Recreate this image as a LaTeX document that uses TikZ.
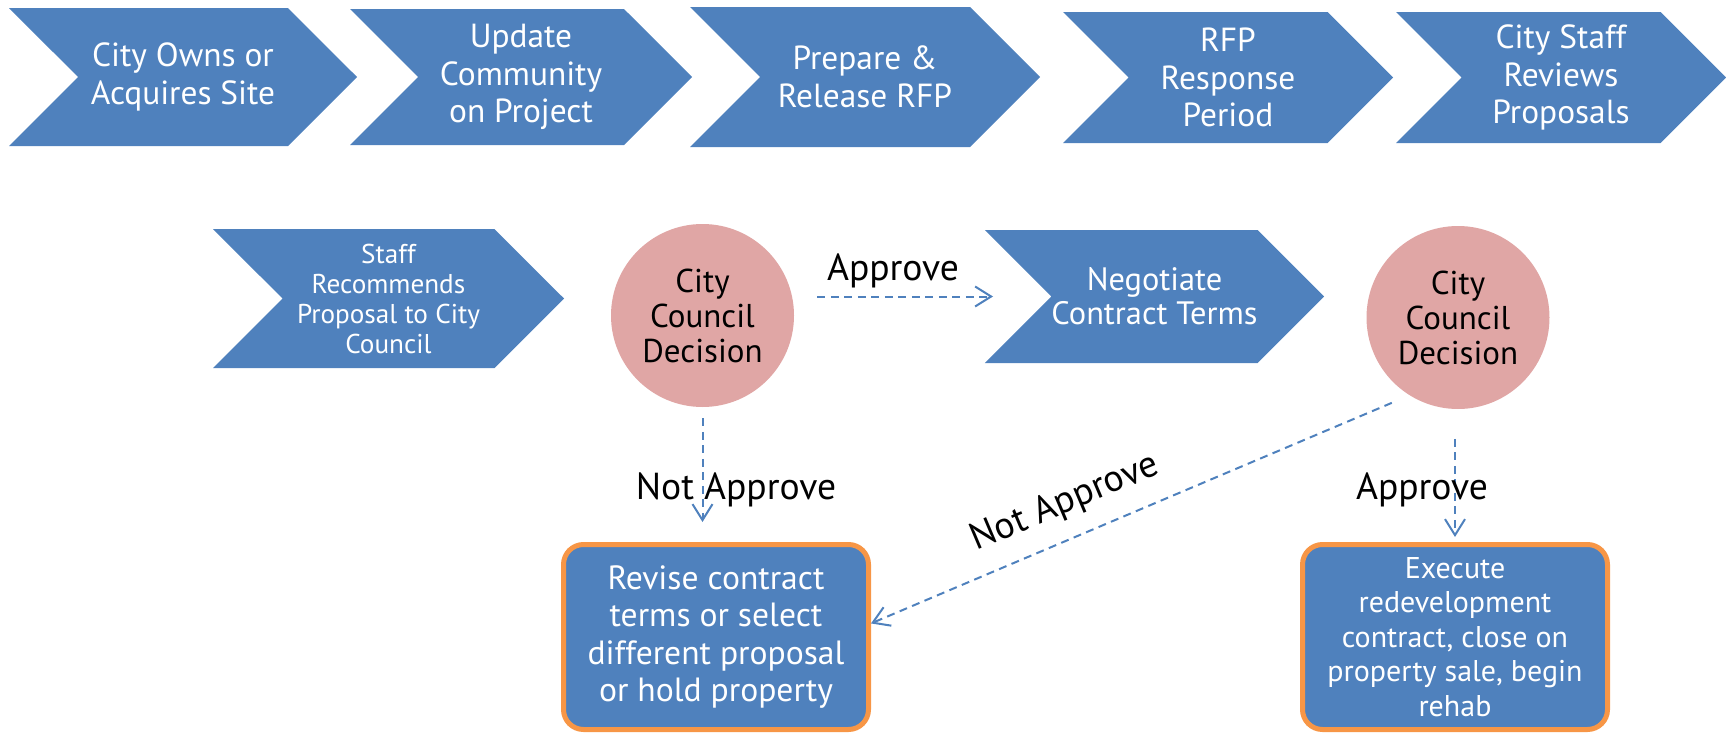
\documentclass[tikz,border=0pt]{standalone}
\usepackage{fontspec}
\setmainfont{PT Sans}
\usepackage{tikz}
\usetikzlibrary{arrows.meta}
\usetikzlibrary{shapes.symbols}

\definecolor{stepblue}{HTML}{4F81BD}
\definecolor{votepink}{HTML}{E0A6A5}
\definecolor{rimorange}{HTML}{F79646}

\begin{document}
\begin{tikzpicture}[x=0.5pt,y=-0.5pt]
\useasboundingbox (0,0) rectangle (1726,734);

\begin{scope}[every node/.style={signal,signal from=west,signal to=east,
              signal pointer angle=90,fill=stepblue,text=white,
              align=center,inner sep=0pt}]
	\begin{scope}[font=\fontsize{16.7}{18.75}\selectfont]
	\node[minimum width=174pt,minimum height=69pt] (1) at (183,77) {City Owns or\\Acquires Site};
	\node[minimum width=171pt,minimum height=68pt] (2) at (521,77) {Update\\Community\\on Project};
	\node[minimum width=175pt,minimum height=70pt] (3) at (865,77) {Prepare \&\\Release RFP};
	\node[minimum width=165pt,minimum height=65.5pt] (4) at (1228,77.5) {RFP\\Response\\Period};
	\node[minimum width=165pt,minimum height=65.5pt] (5) at (1561,77.5) {City Staff\\Reviews\\Proposals};
	\end{scope}

	\node[minimum width=175.5pt,minimum height=69.5pt,
	      font=\fontsize{13.6}{15}\selectfont] (6) at (388.5,298.5) {Staff\\Recommends\\Proposal to City\\Council};
	\node[minimum width=167.5pt,minimum height=66.5pt,
	      font=\fontsize{16.2}{17}\selectfont] (8) at (1154.5,296.5) {Negotiate\\Contract Terms};
\end{scope}

% council votes
\begin{scope}[every node/.style={circle,fill=votepink,minimum size=91.5pt,
              inner sep=0pt,align=center,font=\fontsize{16.5}{17.5}\selectfont}]
	\node (7) at (702.5,315.5) {City\\Council\\Decision};
	\node (9) at (1458,317.5) {City\\Council\\Decision};
\end{scope}

% outcomes
\begin{scope}[every node/.style={rectangle,rounded corners=10pt,fill=stepblue,
              draw=rimorange,line width=2.5pt,text=white,align=center,
              minimum width=152.5pt,minimum height=92.5pt,inner sep=0pt}]
	\node[font=\fontsize{16.8}{18.75}\selectfont] (10) at (716,637) {Revise contract\\terms or select\\different proposal\\or hold property};
	\node[font=\fontsize{15}{17.25}\selectfont] (11) at (1455,637) {Execute\\redevelopment\\contract, close on\\property sale, begin\\rehab};
\end{scope}

\begin{scope}[every node/.style={font=\fontsize{18.8}{21}\selectfont,inner sep=0pt},
              every edge/.style={draw=stepblue,line width=1pt,
                dash pattern=on 4pt off 2.75pt,
                -{Straight Barb[length=8pt,width=10pt]}}]
	\path (7.east |- 8) edge[shorten <=11.5pt,shorten >=80.75pt] (8.center);
	\path (7.south) edge[shorten <=5.5pt,shorten >=10pt] (7.south |- 10.north);
	\path (9.south -| 11.north) edge[shorten <=14.75pt,shorten >=2.5pt] (11.north);
	\path (9.238) edge[shorten <=9.5pt] (10.5);

	\node[anchor=base] (a1) at (893,280) {Approve};
	\node[anchor=base] (n1) at (736,499) {Not Approve};
	\node[anchor=base] (a2) at (1422,499) {Approve};
	\node[rotate=23] (n2) at (1065,503) {Not Approve};
\end{scope}
\end{tikzpicture}
\end{document}
